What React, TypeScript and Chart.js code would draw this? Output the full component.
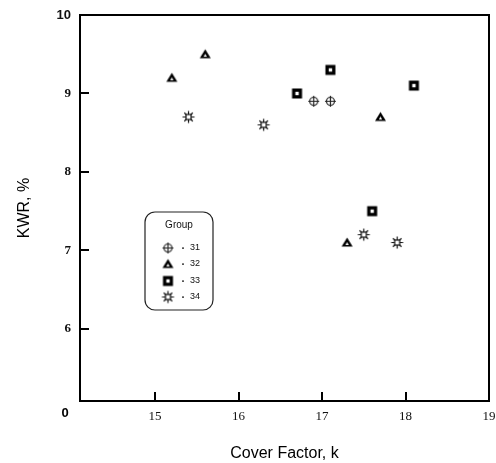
import React, { useEffect, useRef } from "react";
import { Chart, registerables } from "chart.js";

Chart.register(...registerables);

// ---- data ----
const xTicks = [15, 16, 17, 18, 19];
const yTicks = [6, 7, 8, 9, 10];
const groupLabels = ["31", "32", "33", "34"];
const g31x = [16.9, 17.1];
const g31y = [8.9, 8.9];
const g32x = [15.2, 15.6, 17.7, 17.3];
const g32y = [9.2, 9.5, 8.7, 7.1];
const g33x = [16.7, 17.1, 18.1, 17.6];
const g33y = [9.0, 9.3, 9.1, 7.5];
const g34x = [15.4, 16.3, 17.5, 17.9];
const g34y = [8.7, 8.6, 7.2, 7.1];
const xTitle = "Cover Factor, k";
const yTitle = "KWR, %";
const legendTitle = "Group";
const originLabel = "0";

function makeMarker(kind: string): HTMLCanvasElement {
  const s = 15;
  const c = document.createElement("canvas");
  c.width = s;
  c.height = s;
  const g = c.getContext("2d")!;
  const m = s / 2;
  if (kind === "square") {
    g.fillStyle = "#000";
    g.fillRect(m - 5, m - 5, 10, 10);
    g.fillStyle = "#fff";
    g.fillRect(m - 1.7, m - 1.7, 3.4, 3.4);
  } else if (kind === "triangle") {
    g.fillStyle = "#000";
    g.beginPath();
    g.moveTo(m, m - 5);
    g.lineTo(m + 5.5, m + 4);
    g.lineTo(m - 5.5, m + 4);
    g.closePath();
    g.fill();
    g.fillStyle = "#fff";
    g.beginPath();
    g.moveTo(m, m - 0.5);
    g.lineTo(m + 1.6, m + 2.4);
    g.lineTo(m - 1.6, m + 2.4);
    g.closePath();
    g.fill();
  } else if (kind === "circlecross") {
    g.strokeStyle = "#222";
    g.lineWidth = 1.2;
    g.beginPath();
    g.arc(m, m, 4, 0, Math.PI * 2);
    g.stroke();
    g.beginPath();
    g.moveTo(m - 5.5, m);
    g.lineTo(m + 5.5, m);
    g.moveTo(m, m - 5.5);
    g.lineTo(m, m + 5.5);
    g.stroke();
  } else {
    g.strokeStyle = "#111";
    g.lineWidth = 1.2;
    g.beginPath();
    for (let i = 0; i < 4; i++) {
      const a = (i * Math.PI) / 4;
      g.moveTo(m - 6 * Math.cos(a), m - 6 * Math.sin(a));
      g.lineTo(m + 6 * Math.cos(a), m + 6 * Math.sin(a));
    }
    g.stroke();
    g.fillStyle = "#fff";
    g.fillRect(m - 2.5, m - 2.5, 5, 5);
    g.strokeRect(m - 2.5, m - 2.5, 5, 5);
  }
  return c;
}

export default function App() {
  const ref = useRef<HTMLCanvasElement | null>(null);

  useEffect(() => {
    if (!ref.current) return;
    const markers = [
      makeMarker("circlecross"),
      makeMarker("triangle"),
      makeMarker("square"),
      makeMarker("star"),
    ];
    const xs = [g31x, g32x, g33x, g34x];
    const ys = [g31y, g32y, g33y, g34y];

    const datasets = groupLabels.map((lab, i) => ({
      label: lab,
      data: xs[i].map((x, j) => ({ x, y: ys[i][j] })),
      pointStyle: markers[i] as any,
      pointRadius: 6,
      showLine: false,
    }));

    const framePlugin = {
      id: "frame",
      afterDraw(chart: any) {
        const ctx = chart.ctx;
        const a = chart.chartArea;
        const xs_ = chart.scales.x;
        const ys_ = chart.scales.y;
        ctx.save();
        ctx.strokeStyle = "#000";
        ctx.lineWidth = 2;
        ctx.strokeRect(a.left, a.top, a.right - a.left, a.bottom - a.top);
        // inward ticks
        ctx.beginPath();
        xTicks.forEach((v) => {
          const px = Math.round(xs_.getPixelForValue(v));
          ctx.moveTo(px, a.bottom);
          ctx.lineTo(px, a.bottom - 9);
        });
        yTicks.forEach((v) => {
          const py = Math.round(ys_.getPixelForValue(v));
          ctx.moveTo(a.left, py);
          ctx.lineTo(a.left + 9, py);
        });
        ctx.stroke();
        // origin label
        ctx.fillStyle = "#000";
        ctx.font = "bold 13px 'Liberation Sans', Arial, sans-serif";
        ctx.textAlign = "center";
        ctx.textBaseline = "middle";
        ctx.fillText(originLabel, a.left - 15, a.bottom + 12);
        // legend
        const lx = a.left + 65;
        const ly = a.top + 197;
        const lw = 68;
        const lh = 98;
        ctx.lineWidth = 1.2;
        ctx.strokeStyle = "#222";
        ctx.beginPath();
        (ctx as any).roundRect(lx, ly, lw, lh, 10);
        ctx.stroke();
        ctx.font = "10px 'Liberation Sans', Arial, sans-serif";
        ctx.fillStyle = "#111";
        ctx.fillText(legendTitle, lx + lw / 2, ly + 13);
        const rows = [36, 52, 69, 85];
        chart.data.datasets.forEach((ds: any, i: number) => {
          const ry = ly + rows[i];
          const img = ds.pointStyle as HTMLCanvasElement;
          ctx.drawImage(img, lx + 23 - img.width / 2, ry - img.height / 2);
          ctx.fillRect(lx + 37, ry - 0.5, 2, 1.2);
          ctx.textAlign = "left";
          ctx.font = "9px 'Liberation Sans', Arial, sans-serif";
          ctx.fillText(ds.label, lx + 45, ry);
          ctx.textAlign = "center";
        });
        ctx.restore();
      },
    };

    const chart = new Chart(ref.current, {
      type: "scatter",
      data: { datasets: datasets as any },
      options: {
        animation: false,
        responsive: false,
        maintainAspectRatio: false,
        layout: { padding: { top: 15, right: 6, left: 0, bottom: 0 } },
        plugins: { legend: { display: false }, tooltip: { enabled: false } },
        scales: {
          x: {
            type: "linear",
            min: 14.1,
            max: 19,
            afterBuildTicks: (s: any) => {
              s.ticks = xTicks.map((v) => ({ value: v }));
            },
            afterFit: (s: any) => {
              s.height = 62;
              s.paddingLeft = 0;
              s.paddingRight = 0;
            },
            grid: { display: false, drawTicks: false },
            border: { display: false },
            ticks: {
              padding: 8,
              color: "#111",
              font: { family: "'Liberation Serif', 'Times New Roman', serif", size: 13 },
              callback: (v: any) => String(v),
            },
            title: {
              display: true,
              text: xTitle,
              color: "#000",
              font: { family: "'Liberation Sans', Arial, sans-serif", size: 16 },
              padding: { top: 0, bottom: 0 },
            },
          },
          y: {
            type: "linear",
            min: 5.08,
            max: 10,
            afterBuildTicks: (s: any) => {
              s.ticks = yTicks.map((v) => ({ value: v }));
            },
            afterFit: (s: any) => {
              s.width = 80;
              s.paddingTop = 0;
              s.paddingBottom = 0;
            },
            grid: { display: false, drawTicks: false },
            border: { display: false },
            ticks: {
              padding: 9,
              color: "#111",
              font: (c: any) =>
                c.tick && c.tick.value === 10
                  ? { family: "'Liberation Sans', Arial, sans-serif", size: 13, weight: "bold" }
                  : { family: "'Liberation Serif', 'Times New Roman', serif", size: 13, weight: "bold" },
              callback: (v: any) => String(v),
            },
            title: {
              display: true,
              text: yTitle,
              color: "#000",
              font: { family: "'Liberation Sans', Arial, sans-serif", size: 16 },
              padding: { top: 15, bottom: 0 },
            },
          },
        },
      },
      plugins: [framePlugin],
    });
    return () => chart.destroy();
  }, []);

  return (
    <div style={{ position: "fixed", left: 0, top: 0, width: 496, height: 463, background: "#fff" }}>
      <canvas ref={ref} width={496} height={463} style={{ width: 496, height: 463 }} />
    </div>
  );
}
